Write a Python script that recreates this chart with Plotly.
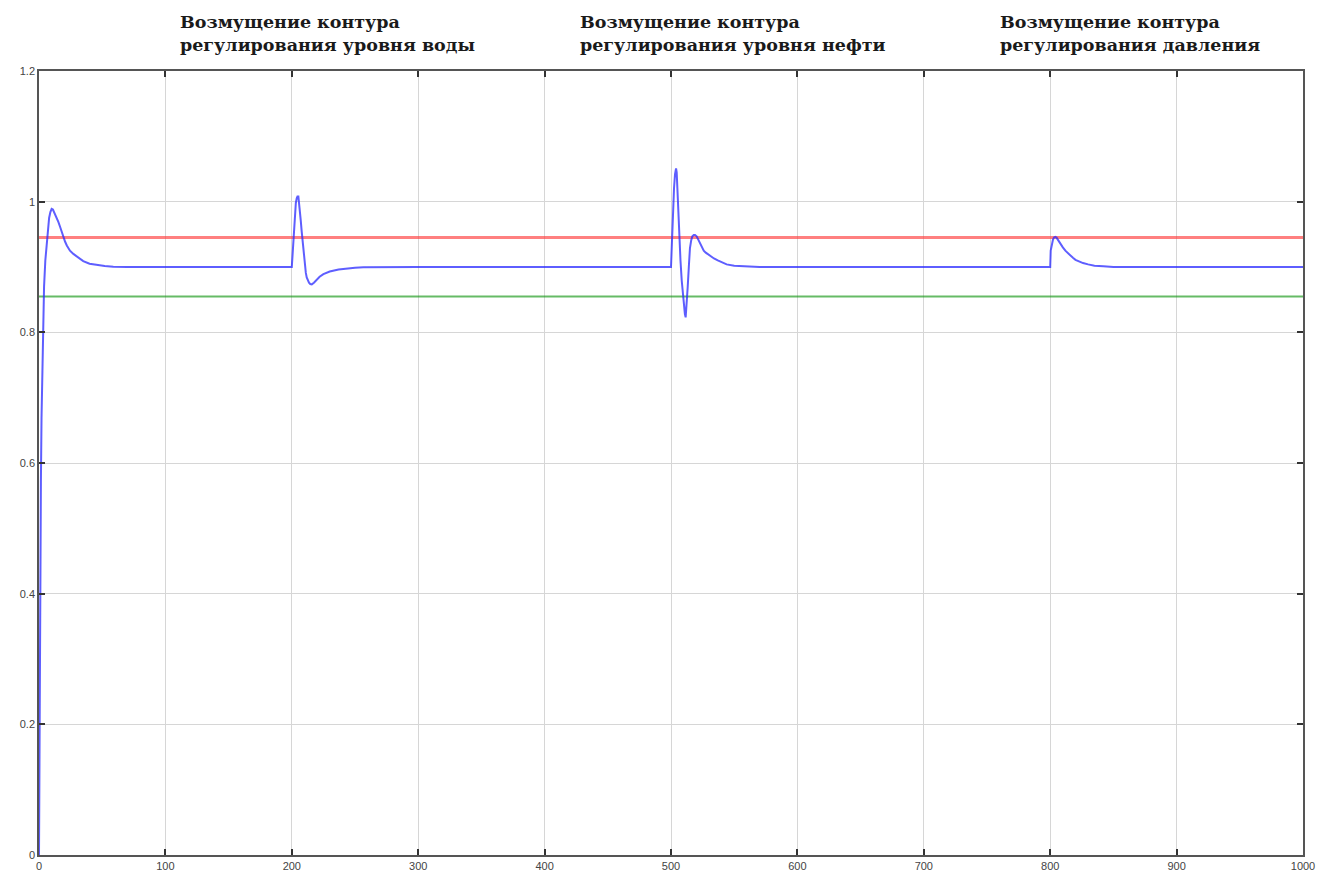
import plotly.graph_objects as go

# Transient response of the controlled level, read point by point
time_s = [0, 0.5, 1, 1.5, 2, 3, 4, 5, 6, 6.6, 7.3, 8, 9, 10, 11, 12, 13, 14, 15.3, 16.6, 18, 19.3, 20.6, 22, 24.5, 27.2, 31, 35,
          40, 45.6, 52, 58.8, 70,
          200, 200.4, 201.2, 201.8, 202.5, 203.2, 203.9, 204.5, 205.2, 205.8, 206.5, 207.1, 207.8, 208.5, 209.1, 209.8,
          210.4, 211.1, 211.8, 212.7, 213.6, 214.6, 215.8, 217.5, 219.7, 222, 225, 230, 237, 243.4, 250, 256.6, 270, 300,
          500, 500.5, 501, 501.7, 502.4, 503.2, 504, 504.5, 505, 505.8, 506.6, 507.5, 508.5, 509.4, 510.3, 511, 511.6,
          512.4, 513.2, 514.1, 515, 516, 516.9, 518, 519, 520.3, 521.6, 522.9, 524.3, 525.9, 527.5, 530.9, 534, 537, 540,
          544, 550, 557.2, 570, 600,
          800, 800.4, 801, 801.5, 802.2, 803, 804, 805, 806.5, 808, 810, 812, 814, 816, 818, 820, 823, 826, 830, 835, 842,
          850, 1000]
level = [0, 0.25, 0.42, 0.57, 0.67, 0.8, 0.87, 0.91, 0.932, 0.945, 0.961, 0.975, 0.984, 0.989, 0.988, 0.984, 0.98, 0.975,
         0.969, 0.962, 0.953, 0.945, 0.939, 0.933, 0.925, 0.92, 0.914, 0.909, 0.905, 0.903, 0.9015, 0.9005, 0.9,
         0.9, 0.915, 0.945, 0.968, 0.986, 0.998, 1.005, 1.008, 1.008, 0.999, 0.985, 0.971, 0.955, 0.94, 0.925, 0.911,
         0.899, 0.891, 0.884, 0.879, 0.876, 0.874, 0.8735, 0.876, 0.881, 0.885, 0.889, 0.893, 0.896, 0.898, 0.899, 0.8995,
         0.9, 0.9,
         0.9, 0.93, 0.955, 0.99, 1.021, 1.042, 1.051, 1.045, 1.02, 0.985, 0.945, 0.91, 0.879, 0.856, 0.838, 0.828, 0.823,
         0.84, 0.869, 0.9, 0.929, 0.941, 0.947, 0.949, 0.949, 0.947, 0.942, 0.936, 0.929, 0.925, 0.922, 0.917, 0.913,
         0.91, 0.907, 0.904, 0.902, 0.901, 0.9, 0.9,
         0.9, 0.925, 0.933, 0.938, 0.942, 0.945, 0.946, 0.945, 0.94, 0.935, 0.93, 0.925, 0.921, 0.917, 0.914, 0.911,
         0.908, 0.906, 0.904, 0.902, 0.901, 0.9, 0.9]

# Tolerance band around the 0.9 set point
band_x = [0, 1000]
upper_bound = [0.945, 0.945]
lower_bound = [0.855, 0.855]

x_ticks = [0, 100, 200, 300, 400, 500, 600, 700, 800, 900, 1000]
y_ticks = [0, 0.2, 0.4, 0.6, 0.8, 1.0, 1.2]
y_tick_text = ["0", "0.2", "0.4", "0.6", "0.8", "1", "1.2"]

event_x = [110, 426.5, 758.5]
event_text = ["Возмущение контура<br>регулирования уровня воды",
              "Возмущение контура<br>регулирования уровня нефти",
              "Возмущение контура<br>регулирования давления"]

fig = go.Figure()
fig.add_trace(go.Scatter(x=band_x, y=upper_bound, mode="lines",
                         line=dict(color="rgba(255,60,60,0.65)", width=3), hoverinfo="skip"))
fig.add_trace(go.Scatter(x=band_x, y=lower_bound, mode="lines",
                         line=dict(color="rgba(20,150,20,0.65)", width=2), hoverinfo="skip"))
fig.add_trace(go.Scatter(x=time_s, y=level, mode="lines",
                         line=dict(color="rgba(40,40,255,0.75)", width=2)))

for xv, txt in zip(event_x, event_text):
    fig.add_annotation(x=xv, xref="x", y=1.048, yref="paper", text=txt, showarrow=False,
                       xanchor="left", yanchor="middle", align="left",
                       font=dict(family="DejaVu Serif", size=17.5, color="#1a1a1a", weight="bold"))

axis_common = dict(showline=True, linecolor="#555", linewidth=1.5, mirror="ticks", ticks="inside", ticklen=6,
                   tickcolor="#333", tickwidth=1.5, showgrid=True, gridcolor="#d6d6d6", gridwidth=1.2,
                   zeroline=False, tickfont=dict(family="Liberation Sans", size=11, color="#444"))

fig.update_xaxes(range=[0, 1000], tickvals=x_ticks, **axis_common)
fig.update_yaxes(range=[0, 1.2], tickvals=y_ticks, ticktext=y_tick_text, **axis_common)

fig.update_layout(width=1333, height=884, margin=dict(l=39, r=30, t=71, b=24),
                  plot_bgcolor="white", paper_bgcolor="white", showlegend=False)

fig.write_html("out.html")
